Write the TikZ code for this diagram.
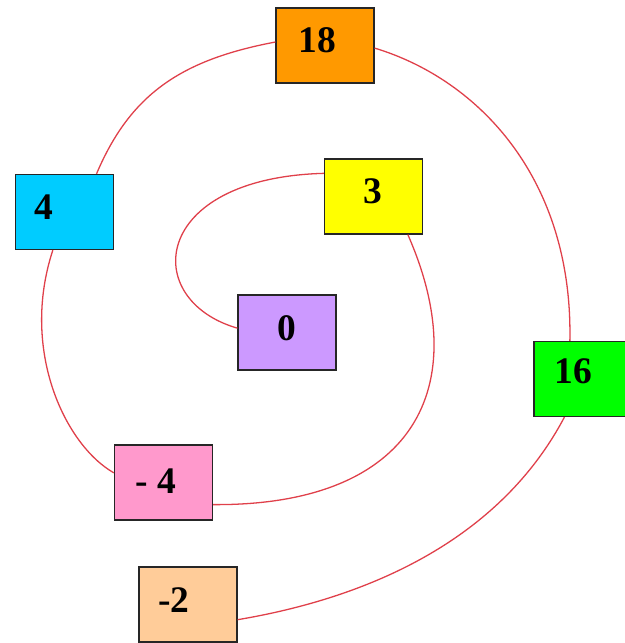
\documentclass[tikz,border=0pt]{standalone}
\usepackage{fontspec}
\setmainfont{Liberation Serif}
\usepackage{xcolor}
\definecolor{BoxOrange}{HTML}{FF9900}
\definecolor{BoxYellow}{HTML}{FFFF00}
\definecolor{BoxCyan}{HTML}{00CCFF}
\definecolor{BoxLilac}{HTML}{CC99FF}
\definecolor{BoxGreen}{HTML}{00FF00}
\definecolor{BoxPink}{HTML}{FF99CC}
\definecolor{BoxPeach}{HTML}{FFCC99}
\definecolor{SpiralRed}{HTML}{E0404A}
\begin{document}
\begin{tikzpicture}[
      x=0.03cm, y=-0.03cm,
      nbox/.style={draw=black!85, line width=1.1pt, minimum width=2.94cm,
                   minimum height=2.25cm, inner sep=0pt},
      num/.style={anchor=base, inner sep=0pt, font=\fontsize{32}{38}\selectfont\bfseries},
      spiral/.style={draw=SpiralRed, line width=1.1pt}
    ]
      \clip (0,0) rectangle (625,643);
      \fill[white] (0,0) rectangle (625,643);
      % boxes
      \node[nbox, fill=BoxOrange] (b18) at (325,45.5) {};
      \node[nbox, fill=BoxYellow] (b3)  at (373.5,196.5) {};
      \node[nbox, fill=BoxCyan]   (b4)  at (64.5,212) {};
      \node[nbox, fill=BoxLilac]  (b0)  at (287,332.5) {};
      \node[nbox, fill=BoxGreen]  (b16) at (583,379) {};
      \node[nbox, fill=BoxPink]   (bm4) at (163.5,482.5) {};
      \node[nbox, fill=BoxPeach]  (bm2) at (188,604.5) {};
      % numbers
      \node[num] (t18) at (317,52)  {18};
      \node[num] (t3)  at (373,203) {3};
      \node[num] (t4)  at (44,219)  {4};
      \node[num] (t0)  at (287,340) {0};
      \node[num] (t16) at (573,383) {16};
      \node[num] (tm4) at (156,493) {- 4};
      \node[num] (tm2) at (174,612) {-2};
      % spiral
      \draw[spiral] (b0.175) .. controls (140,300) and (150,178) .. (b3.155);
      \draw[spiral] (b3.-48) .. controls (475,387) and (414,506) .. (bm4.-24);
      \draw[spiral] (bm4.169) .. controls (65,445) and (20,350) .. (b4.253);
      \draw[spiral] (b4.50) .. controls (130,95) and (180,60) .. (b18.176);
      \draw[spiral] (b18.-3) .. controls (480,80) and (573,180) .. (b16.109);
      \draw[spiral] (b16.244) .. controls (499,541) and (367,598) .. (bm2.-17);
    \end{tikzpicture}
\end{document}
